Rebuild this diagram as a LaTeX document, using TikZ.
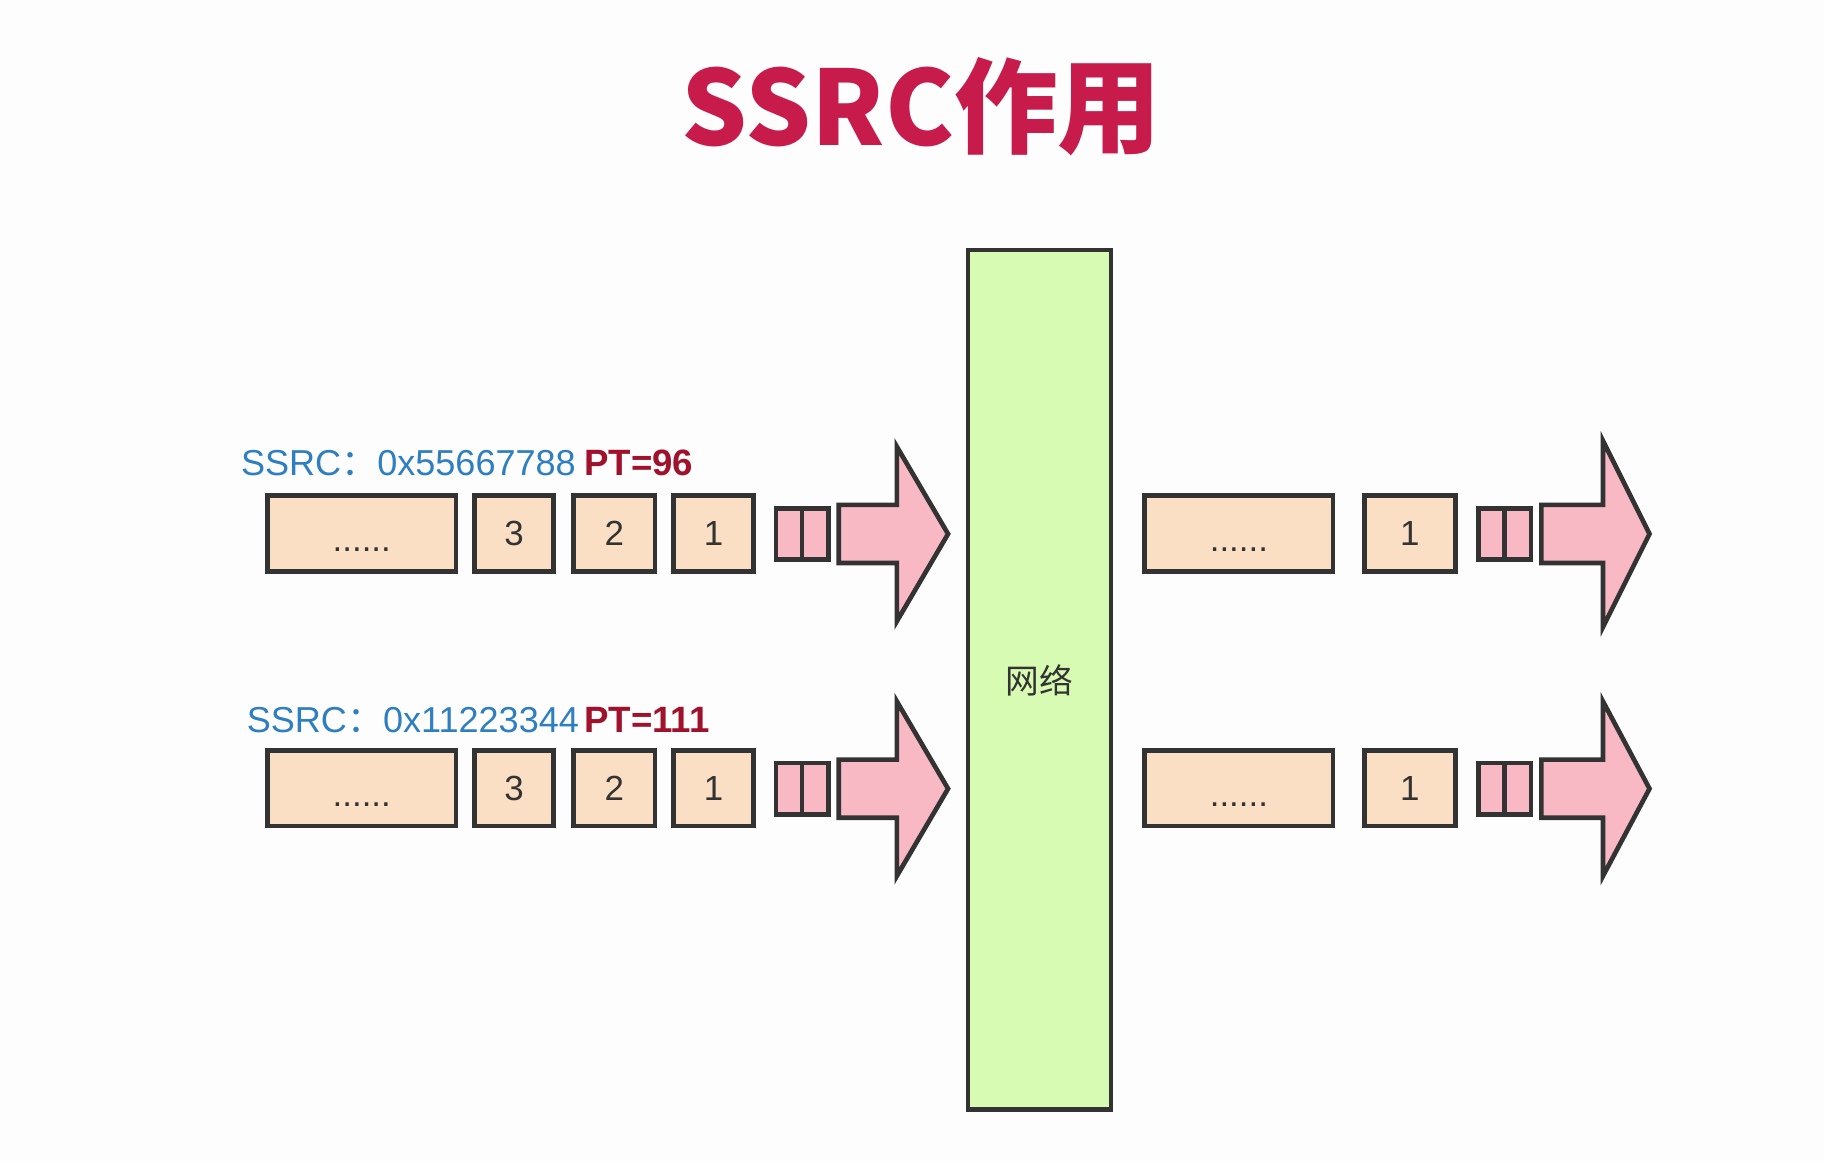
\documentclass[tikz,border=0pt]{standalone}
\usepackage{fontspec}
\setmainfont{Liberation Sans}
\newfontfamily\cjk{Noto Sans CJK SC}
\usetikzlibrary{calc}
\definecolor{peach}{HTML}{FADFC4}
\definecolor{pinkf}{HTML}{F8B8C4}
\definecolor{greenf}{HTML}{D8FBB3}
\definecolor{edge}{HTML}{333333}
\definecolor{titlec}{HTML}{C71B4B}
\definecolor{bluec}{HTML}{2E7EC2}
\definecolor{ptred}{HTML}{A0122C}
\definecolor{bgc}{HTML}{FDFDFD}
\newcommand\blockarrow[5]{%
  \draw[pinkarrow] ($(#1)+(0,#4)$) -- ($(#1)+(#2,#4)$) -- ($(#1)+(#2,#5)$)
    -- ($(#1)+(#2+#3,0)$) -- ($(#1)+(#2,-#5)$) -- ($(#1)+(#2,-#4)$)
    -- ($(#1)+(0,-#4)$) -- cycle;}
\tikzset{
  pkt/.style={draw=edge, line width=4pt, fill=peach, minimum height=65pt,
    inner sep=0pt, text=edge, font=\fontsize{30}{30}\selectfont,
    text height=21.5pt, text depth=0pt},
  dots/.style={text height=32pt},
  small/.style={draw=edge, line width=4pt, fill=pinkf, minimum width=45pt,
    minimum height=44pt, inner sep=0pt},
  pinkarrow/.style={draw=edge, line width=4pt, fill=pinkf, line join=miter},
  lbl/.style={anchor=base west, inner sep=0pt, font=\fontsize{31}{31}\selectfont, text=bluec},
  ptl/.style={anchor=base west, inner sep=0pt, font=\fontsize{31.5}{31.5}\selectfont\bfseries, text=ptred},
}
\begin{document}
\begin{tikzpicture}[x=1pt,y=-1pt]
\fill[bgc] (0,0) rectangle (1568,999);
\useasboundingbox (0,0) rectangle (1568,999);

% title
\node[inner sep=0pt, text=titlec, font=\cjk\bfseries\fontsize{89}{89}\selectfont] (title) at (792,92) {SSRC作用};

% network
\node[draw=edge, line width=4pt, fill=greenf, minimum width=123pt, minimum height=739pt, inner sep=0pt] (net) at (893.5,584.5) {};
\node[inner sep=0pt, text=edge, font=\cjk\fontsize{29}{29}\selectfont] (netl) at (893.5,585) {网络};

% ---- left row 1
\node[lbl] (s1) at (207,409) {SSRC{\cjk：}0x55667788};
\node[ptl] (p1) at (502,409) {PT=96};
\node[pkt, dots, minimum width=162pt] (ld1) at (311,458.5) {......};
\node[pkt, minimum width=68pt] (l13) at (442,458.5) {3};
\node[pkt, minimum width=70pt] (l12) at (528,458.5) {2};
\node[pkt, minimum width=69pt] (l11) at (613.5,458.5) {1};
\node[small] (ls1) at (689.5,459) {};
\draw[edge, line width=4pt] (ls1.north) -- (ls1.south);
\coordinate (la1) at (721,459);
\blockarrow{la1}{50}{44}{25}{75}

% ---- left row 2
\node[lbl] (s2) at (212,630) {SSRC{\cjk：}0x11223344};
\node[ptl] (p2) at (502,630) {PT=111};
\node[pkt, dots, minimum width=162pt] (ld2) at (311,677.5) {......};
\node[pkt, minimum width=68pt] (l23) at (442,677.5) {3};
\node[pkt, minimum width=70pt] (l22) at (528,677.5) {2};
\node[pkt, minimum width=69pt] (l21) at (613.5,677.5) {1};
\node[small] (ls2) at (689.5,678) {};
\draw[edge, line width=4pt] (ls2.north) -- (ls2.south);
\coordinate (la2) at (721,678);
\blockarrow{la2}{50}{44}{25}{75}

% ---- right row 1
\node[pkt, dots, minimum width=162pt] (rd1) at (1065,458.5) {......};
\node[pkt, minimum width=78pt] (r11) at (1212,458.5) {1};
\node[small] (rs1) at (1293.5,459) {};
\draw[edge, line width=4pt] (rs1.north) -- (rs1.south);
\coordinate (ra1) at (1325,459);
\blockarrow{ra1}{53}{40}{25}{80}

% ---- right row 2
\node[pkt, dots, minimum width=162pt] (rd2) at (1065,677.5) {......};
\node[pkt, minimum width=78pt] (r21) at (1212,677.5) {1};
\node[small] (rs2) at (1293.5,678) {};
\draw[edge, line width=4pt] (rs2.north) -- (rs2.south);
\coordinate (ra2) at (1325,678);
\blockarrow{ra2}{53}{40}{25}{75}
\end{tikzpicture}
\end{document}
